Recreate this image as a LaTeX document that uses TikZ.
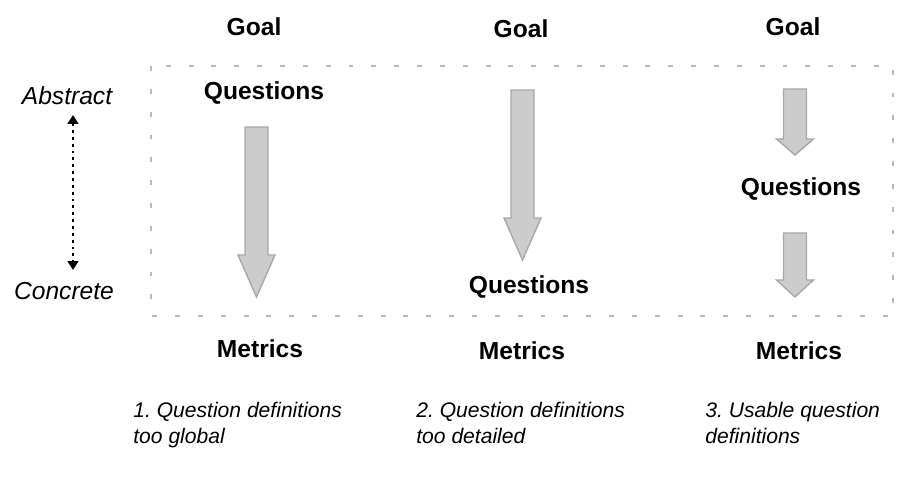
\documentclass[tikz,border=0pt]{standalone}
\usepackage{fontspec}
\setmainfont{Liberation Sans}
\usetikzlibrary{arrows.meta}
\definecolor{gqmfill}{RGB}{204,204,204}
\definecolor{gqmedge}{RGB}{168,168,168}
\definecolor{gqmbox}{RGB}{185,185,185}
\frenchspacing

% block arrow: centre x, top, start of head, tip
\newcommand{\gqmarrow}[4]{%
  \filldraw[fill=gqmfill,draw=gqmedge,line width=0.8pt]
    (#1-11.5,#2) -- (#1+11.5,#2) -- (#1+11.5,#3) -- (#1+18.5,#3)
    -- (#1,#4) -- (#1-18.5,#3) -- (#1-11.5,#3) -- cycle;}

\tikzset{
  level/.style={font=\bfseries\fontsize{14}{16}\selectfont},
  scalelabel/.style={font=\itshape\fontsize{14}{16}\selectfont},
  caption/.style={font=\itshape\fontsize{12}{14.7}\selectfont,align=left,anchor=base west,inner sep=0pt}
}

\begin{document}
\begin{tikzpicture}[x=0.02cm,y=-0.02cm]
  \useasboundingbox (0,0) rectangle (915,492);

  % frame of the abstraction range
  \draw[gqmbox,line width=0.8pt,dash pattern=on 2.8pt off 10.2pt] (151,66) rectangle (893,316);

  % scale on the left
  \node[scalelabel] (abstract) at (67,96) {Abstract};
  \node[scalelabel] (concrete) at (64,291) {Concrete};
  \coordinate (abs-end) at (73,115);
  \coordinate (con-end) at (73,270);
  \draw[line width=1.3pt,dash pattern=on 1.6pt off 2.3pt,
        {Triangle[width=6pt,length=5pt]}-{Triangle[width=6pt,length=5pt]}] (abs-end) -- (con-end);

  % case 1
  \node[level] (goal1) at (254,27) {Goal};
  \node[level] (quest1) at (264,93) {Questions};
  \node[level] (metr1) at (260,349) {Metrics};
  \gqmarrow{256.5}{127}{255}{297}
  \node[caption] (cap1) at (133,443) {1. Question definitions\\too global};

  % case 2
  \node[level] (goal2) at (521,29) {Goal};
  \node[level] (quest2) at (529,287) {Questions};
  \node[level] (metr2) at (522,351) {Metrics};
  \gqmarrow{522.5}{90}{218}{260}
  \node[caption] (cap2) at (416,443) {2. Question definitions\\too detailed};

  % case 3
  \node[level] (goal3) at (793,27) {Goal};
  \node[level] (quest3) at (801,189) {Questions};
  \node[level] (metr3) at (799,351) {Metrics};
  \gqmarrow{795}{89}{139}{155}
  \gqmarrow{795}{233}{280}{297}
  \node[caption] (cap3) at (705,443) {3. Usable question\\definitions};
\end{tikzpicture}
\end{document}
